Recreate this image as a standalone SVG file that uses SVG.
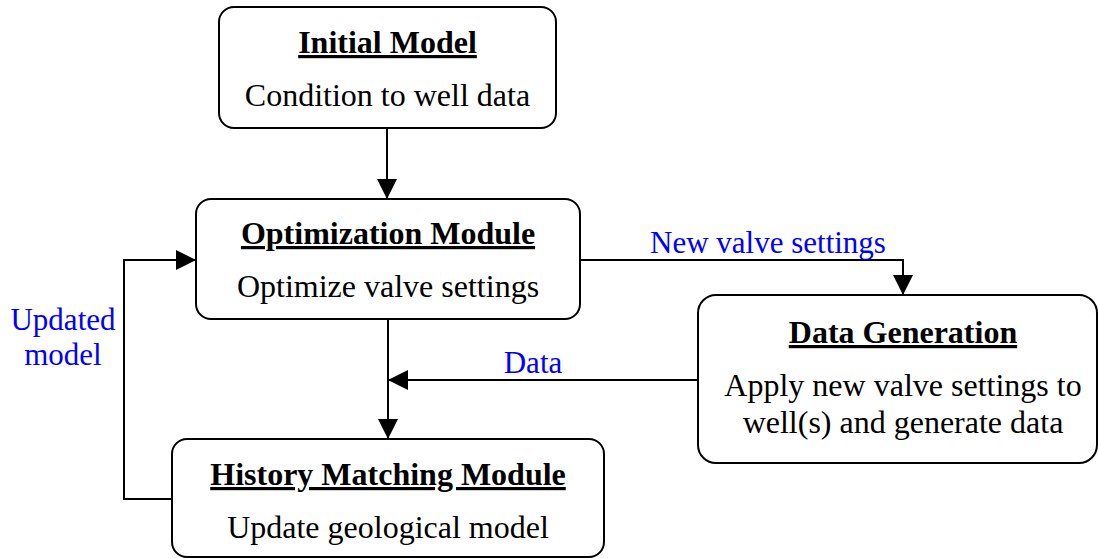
<svg xmlns="http://www.w3.org/2000/svg" width="1099" height="558" viewBox="0 0 1099 558">
  <style>
    .box { fill: #ffffff; stroke: #000000; stroke-width: 2; }
    .title { font-family: "Liberation Serif", "Times New Roman", serif; font-size: 32px; font-weight: bold; text-anchor: middle; text-decoration: underline; text-decoration-thickness: 3px; fill: #000000; }
    .body { font-family: "Liberation Serif", "Times New Roman", serif; font-size: 32px; text-anchor: middle; fill: #000000; }
    .label { font-family: "Liberation Serif", "Times New Roman", serif; font-size: 31px; text-anchor: middle; fill: #0000ff; }
    .edge { fill: none; stroke: #000000; stroke-width: 2; marker-end: url(#arrow); }
  </style>
  <defs>
    <marker id="arrow" markerUnits="userSpaceOnUse" markerWidth="22" markerHeight="22" refX="20" refY="10" orient="auto">
      <path d="M0,0 L20,10 L0,20 Z" fill="#000000"/>
    </marker>
  </defs>
  <rect width="1099" height="558" fill="#ffffff"/>

  <!-- connectors and their labels -->
  <g id="connectors">
    <path class="edge" d="M387,128 V199"/>
    <path class="edge" d="M580,260 H903 V295"/>
    <path class="edge" d="M698,380 H388"/>
    <path class="edge" d="M388,319 V439"/>
    <path class="edge" d="M172,499 H124 V260 H196"/>
    <text class="label" x="768" y="253">New valve settings</text>
    <text class="label" x="533" y="373">Data</text>
    <text class="label" x="63" y="330">Updated</text>
    <text class="label" x="63" y="365">model</text>
  </g>

  <g id="initial-model">
    <rect class="box" x="219" y="7" width="337" height="121" rx="15"/>
    <text class="title" x="387.5" y="53">Initial Model</text>
    <text class="body" x="387.5" y="106">Condition to well data</text>
  </g>

  <g id="optimization-module">
    <rect class="box" x="196" y="199" width="384" height="120" rx="15"/>
    <text class="title" x="388" y="244">Optimization Module</text>
    <text class="body" x="388" y="297">Optimize valve settings</text>
  </g>

  <g id="data-generation">
    <rect class="box" x="698" y="295" width="399" height="168" rx="18"/>
    <text class="title" x="903" y="343">Data Generation</text>
    <text class="body" x="903" y="396">Apply new valve settings to</text>
    <text class="body" x="903" y="433">well(s) and generate data</text>
  </g>

  <g id="history-matching-module">
    <rect class="box" x="172" y="439" width="432" height="118" rx="15"/>
    <text class="title" x="388" y="485">History Matching Module</text>
    <text class="body" x="388" y="538">Update geological model</text>
  </g>
</svg>
